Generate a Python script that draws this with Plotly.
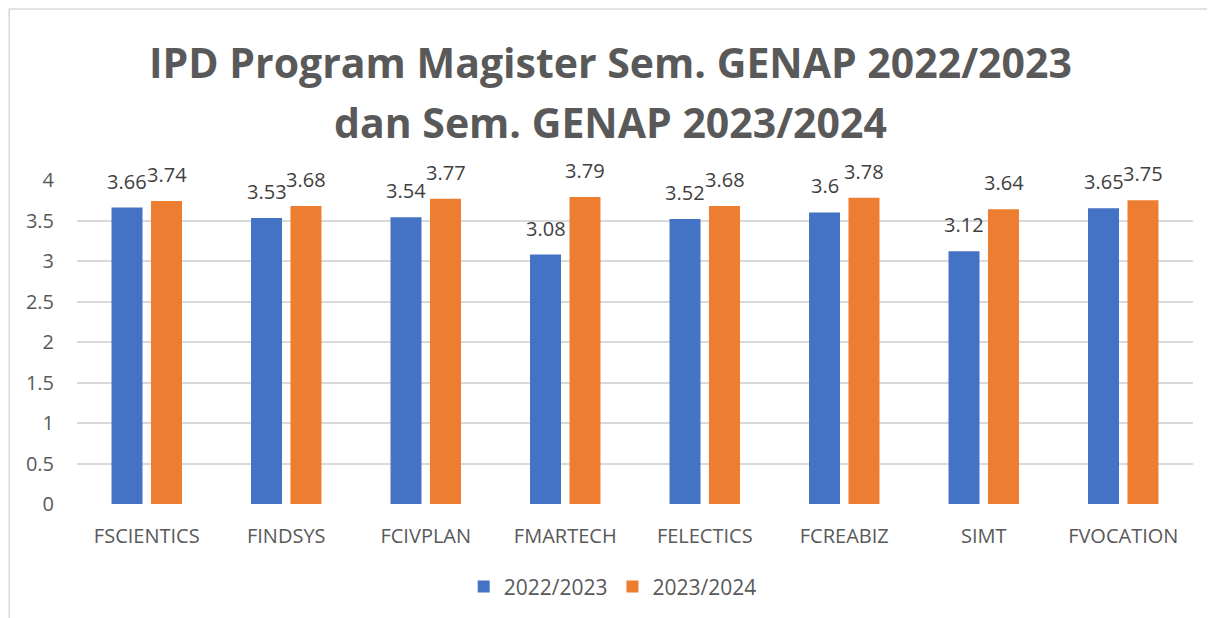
import plotly.graph_objects as go

categories = ["FSCIENTICS", "FINDSYS", "FCIVPLAN", "FMARTECH", "FELECTICS", "FCREABIZ", "SIMT", "FVOCATION"]
series_names = ["2022/2023", "2023/2024"]
values_2022 = [3.66, 3.53, 3.54, 3.08, 3.52, 3.6, 3.12, 3.65]
values_2023 = [3.74, 3.68, 3.77, 3.79, 3.68, 3.78, 3.64, 3.75]
colors = ["#4472C4", "#ED7D31"]
title_lines = ["IPD Program Magister Sem. GENAP 2022/2023", "dan Sem. GENAP 2023/2024"]
y_ticks = [0, 0.5, 1, 1.5, 2, 2.5, 3, 3.5, 4]

FONT = "Open Sans"
fig = go.Figure()
for name, vals, col in zip(series_names, [values_2022, values_2023], colors):
    fig.add_trace(go.Bar(x=categories, y=vals, name=name, marker_color=col,
                         marker_line_width=0))

# data labels
for vals, shift in [(values_2022, -19.75), (values_2023, 19.75)]:
    for c, v in zip(categories, vals):
        fig.add_annotation(x=c, y=v, text=f"{v:g}", showarrow=False, xref="x", yref="y",
                           xshift=shift, yshift=11, yanchor="bottom",
                           font=dict(family=FONT, size=20, color="#404040"))

for i, (t, py) in enumerate(zip(title_lines, [1.364, 1.179])):
    fig.add_annotation(text=f"<b>{t}</b>", x=0.4776, y=py, xref="paper", yref="paper",
                       showarrow=False, xanchor="center", yanchor="middle",
                       font=dict(family=FONT, size=41, color="#595959"))

# chart area border (cropped at right and bottom)
fig.add_shape(type="rect", xref="paper", yref="paper", x0=-0.0608, x1=1.03, y0=-0.4, y1=1.528,
              line=dict(color="#D9D9D9", width=1.5), layer="below")

fig.update_layout(
    width=1215, height=618,
    margin=dict(l=69, r=30, t=172, b=122),
    paper_bgcolor="white", plot_bgcolor="white",
    barmode="group", bargap=0.434, bargroupgap=0.215,
    font=dict(family=FONT, color="#595959", size=20),
    showlegend=True,
    legend=dict(orientation="h", x=0.48, xanchor="center", y=-0.256, yanchor="middle",
                font=dict(family=FONT, size=21, color="#595959"), itemwidth=30,
                traceorder="normal"),
)
fig.update_yaxes(range=[0, 4], tickvals=y_ticks, ticktext=[f"{t:g}" for t in y_ticks],
                 showgrid=True, gridcolor="#D9D9D9", gridwidth=1.5, zeroline=False,
                 showline=False, ticks="", ticklabelstandoff=22, automargin=False,
                 tickfont=dict(family=FONT, size=20, color="#595959"))
fig.update_xaxes(showgrid=False, showline=False, ticks="", ticklabelstandoff=18, automargin=False,
                 tickfont=dict(family=FONT, size=20, color="#595959"))

fig.write_html("out.html")
